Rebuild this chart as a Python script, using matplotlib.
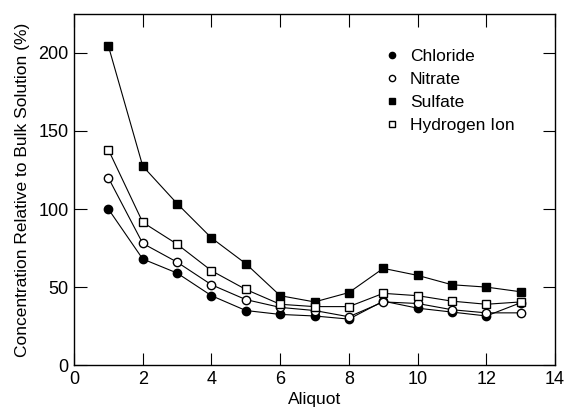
import matplotlib
matplotlib.use("Agg")
import matplotlib.pyplot as plt

plt.rcParams['font.family'] = ['Liberation Sans', 'DejaVu Sans']

# data
aliquot = [1, 2, 3, 4, 5, 6, 7, 8, 9, 10, 11, 12, 13]
chloride = [100, 68, 59, 44.5, 35, 32.5, 31.5, 29.5, 41, 36.5, 34, 31.5, 40]
nitrate = [120, 78, 66, 51.5, 42, 37, 35, 31, 40.5, 39.5, 35.5, 33.5, 33.5]
sulfate = [204.5, 127.5, 103.5, 81.5, 65, 44.5, 40.5, 46.5, 62, 57.5, 51.5, 50, 47]
hydrogen = [138, 91.5, 77.5, 60.5, 48.5, 39, 37.5, 37.5, 46, 44.5, 41, 39, 40.5]

fig = plt.figure(figsize=(5.67, 4.08), dpi=100)
ax = fig.add_axes([0.1305, 0.105, 0.8485, 0.861])

ms = 6
lw = 0.8
ax.plot(aliquot, chloride, '-o', color='black', mfc='black', ms=ms, lw=lw, label='Chloride')
ax.plot(aliquot, nitrate, '-o', color='black', mfc='white', ms=ms, lw=lw, label='Nitrate')
ax.plot(aliquot, sulfate, '-s', color='black', mfc='black', ms=ms, lw=lw, label='Sulfate')
ax.plot(aliquot, hydrogen, '-s', color='black', mfc='white', ms=ms, lw=lw, label='Hydrogen Ion')

ax.set_xlim(0, 14)
ax.set_ylim(0, 225)
ax.set_xticks([0, 2, 4, 6, 8, 10, 12, 14])
ax.set_yticks([0, 50, 100, 150, 200])
ax.tick_params(direction='in', length=9, width=0.8, top=True, right=True, labelsize=13, pad=4)
for s in ax.spines.values():
    s.set_linewidth(1.0)

ax.set_xlabel('Aliquot', fontsize=12.5, labelpad=3)
ax.set_ylabel('Concentration Relative to Bulk Solution (%)', fontsize=12.5, labelpad=6)

leg = ax.legend(loc='upper left', bbox_to_anchor=(0.615, 0.945), frameon=False,
                handlelength=0.8, handletextpad=0.6, labelspacing=0.45, fontsize=12.5)
for h in leg.legend_handles:
    h.set_linestyle('None')
    h.set_markersize(4.5)

fig.savefig('out.png', dpi=100)
